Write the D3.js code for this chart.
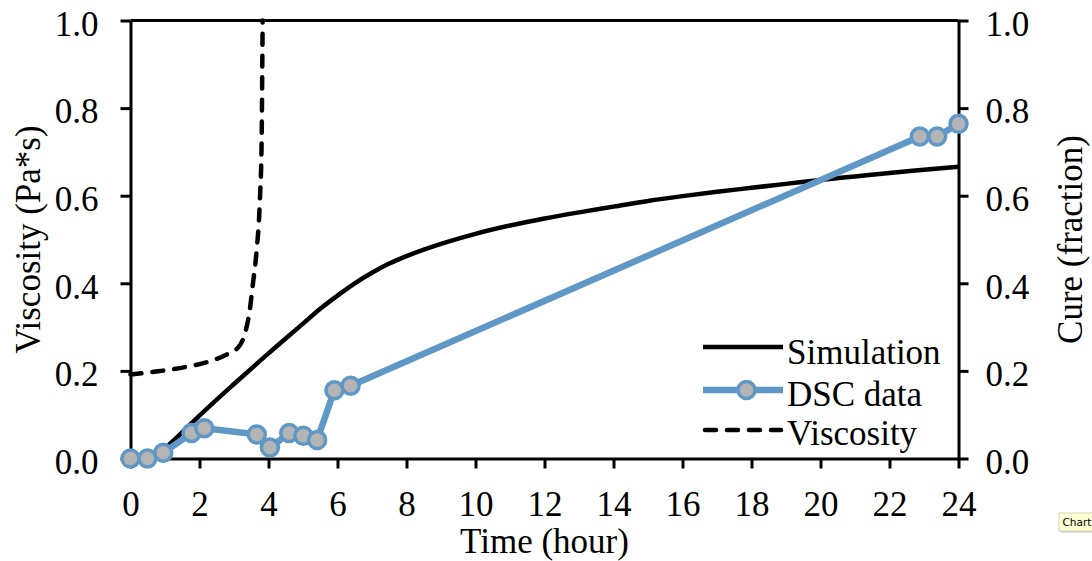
<!DOCTYPE html>
<html>
<head>
<meta charset="utf-8">
<script src="https://cdn.jsdelivr.net/npm/d3@7"></script>
<style>
  html, body { margin: 0; padding: 0; background: #fff; }
  svg { display: block; }
  text { font-family: "Liberation Serif", "Times New Roman", serif; fill: #000; }
</style>
</head>
<body>
<svg id="chart" width="1092" height="561"></svg>
<script>
// Time axis ticks (hours)
const timeTicks = [0, 2, 4, 6, 8, 10, 12, 14, 16, 18, 20, 22, 24];
const valueTicks = [0, 0.2, 0.4, 0.6, 0.8, 1.0];

// Simulated cure fraction vs time
const simTime = [0.85, 1.3, 2, 3, 4, 5, 5.5, 6, 6.5, 7, 7.5, 8, 9, 10, 11, 12, 13, 14, 15, 16, 17, 18, 19, 20, 21, 22, 23, 24];
const simCure = [0.012, 0.045, 0.098, 0.17, 0.24, 0.308, 0.342, 0.372, 0.4, 0.424, 0.445, 0.462, 0.49, 0.513, 0.532, 0.548, 0.562, 0.575, 0.588, 0.599, 0.609, 0.618, 0.627, 0.636, 0.644, 0.652, 0.659, 0.666];

// DSC measured cure fraction
const dscTime = [0, 0.49, 0.95, 1.77, 2.14, 3.66, 4.04, 4.6, 5.01, 5.41, 5.91, 6.38, 22.88, 23.38, 24.0];
const dscCure = [0, 0, 0.013, 0.058, 0.069, 0.055, 0.025, 0.058, 0.052, 0.042, 0.156, 0.166, 0.735, 0.735, 0.764];

// Viscosity (Pa*s) vs time
const viscTime = [0, 0.8, 1.6, 2.3, 2.85, 3.1, 3.25, 3.35, 3.45, 3.55, 3.65, 3.75, 3.8, 3.82, 3.83];
const viscValue = [0.192, 0.199, 0.209, 0.222, 0.24, 0.252, 0.27, 0.295, 0.335, 0.4, 0.47, 0.59, 0.72, 0.9, 1.0];

const legendLabels = ["Simulation", "DSC data", "Viscosity"];

const BLUE = "#5f98c6";
const GREY = "#b4b4b4";
const FONT = 35;

const svg = d3.select("#chart");
const x = d3.scaleLinear().domain([0, 24]).range([130.5, 958.5]);
const y = d3.scaleLinear().domain([0, 1]).range([458.5, 20.5]);

const fmt = d3.format(".1f");

function styleAxis(g) {
  g.selectAll(".domain").attr("stroke", "#000").attr("stroke-width", 3);
  g.selectAll(".tick line").attr("stroke", "#000").attr("stroke-width", 3);
  g.selectAll(".tick text").attr("font-size", FONT).attr("font-family", '"Liberation Serif", serif').attr("fill", "#000");
}

// top frame line
svg.append("line")
  .attr("x1", x(0)).attr("x2", x(24))
  .attr("y1", y(1)).attr("y2", y(1))
  .attr("stroke", "#000").attr("stroke-width", 3);

const gLeft = svg.append("g").attr("transform", `translate(${x(0)},0)`)
  .call(d3.axisLeft(y).tickValues(valueTicks).tickFormat(fmt).tickSize(10).tickSizeOuter(0).tickPadding(22));
styleAxis(gLeft);
gLeft.selectAll(".tick text").attr("dy", "0.42em");

const gRight = svg.append("g").attr("transform", `translate(${x(24)},0)`)
  .call(d3.axisRight(y).tickValues(valueTicks).tickFormat(fmt).tickSize(10).tickSizeOuter(0).tickPadding(17));
styleAxis(gRight);
gRight.selectAll(".tick text").attr("dy", "0.42em");

const gBottom = svg.append("g").attr("transform", `translate(0,${y(0)})`)
  .call(d3.axisBottom(x).tickValues(timeTicks).tickFormat(d3.format("d")).tickSize(10).tickSizeOuter(0).tickPadding(23));
styleAxis(gBottom);

// axis titles
svg.append("text")
  .attr("x", (x(0) + x(24)) / 2).attr("y", 553)
  .attr("text-anchor", "middle").attr("font-size", FONT)
  .text("Time (hour)");

svg.append("text")
  .attr("transform", `translate(40,${(y(0) + y(1)) / 2}) rotate(-90)`)
  .attr("text-anchor", "middle").attr("font-size", FONT)
  .text("Viscosity (Pa*s)");

svg.append("text")
  .attr("transform", `translate(1082,${(y(0) + y(1)) / 2}) rotate(-90)`)
  .attr("text-anchor", "middle").attr("font-size", FONT)
  .text("Cure (fraction)");

// series
const plot = svg.append("g");

const viscData = viscTime.map((t, i) => [t, viscValue[i]]);
plot.append("path")
  .datum(viscData)
  .attr("fill", "none").attr("stroke", "#000").attr("stroke-width", 4.5)
  .attr("stroke-dasharray", "11,11").attr("stroke-linecap", "round")
  .attr("d", d3.line().x(d => x(d[0])).y(d => y(d[1])).curve(d3.curveMonotoneX));

const simData = simTime.map((t, i) => [t, simCure[i]]);
plot.append("path")
  .datum(simData)
  .attr("fill", "none").attr("stroke", "#000").attr("stroke-width", 4.5)
  .attr("d", d3.line().x(d => x(d[0])).y(d => y(d[1])).curve(d3.curveMonotoneX));

const dscData = dscTime.map((t, i) => [t, dscCure[i]]);
plot.append("path")
  .datum(dscData)
  .attr("fill", "none").attr("stroke", BLUE).attr("stroke-width", 6.5)
  .attr("stroke-linejoin", "round")
  .attr("d", d3.line().x(d => x(d[0])).y(d => y(d[1])));

plot.selectAll("circle.dsc")
  .data(dscData)
  .join("circle")
  .attr("class", "dsc")
  .attr("cx", d => x(d[0])).attr("cy", d => y(d[1]))
  .attr("r", 8.5)
  .attr("fill", GREY).attr("stroke", BLUE).attr("stroke-width", 3.5);

// legend
const legend = svg.append("g");
const legendY = [347, 390, 430];
const legendBase = [364, 406, 445];

legend.append("line")
  .attr("x1", 703).attr("x2", 783).attr("y1", legendY[0]).attr("y2", legendY[0])
  .attr("stroke", "#000").attr("stroke-width", 4.5);
legend.append("line")
  .attr("x1", 703).attr("x2", 783).attr("y1", legendY[1]).attr("y2", legendY[1])
  .attr("stroke", BLUE).attr("stroke-width", 6.5);
legend.append("circle")
  .attr("cx", 746.5).attr("cy", legendY[1]).attr("r", 8.5)
  .attr("fill", GREY).attr("stroke", BLUE).attr("stroke-width", 3.5);
legend.append("line")
  .attr("x1", 705).attr("x2", 781).attr("y1", legendY[2]).attr("y2", legendY[2])
  .attr("stroke", "#000").attr("stroke-width", 4.5)
  .attr("stroke-dasharray", "11,11").attr("stroke-linecap", "round");

legend.selectAll("text")
  .data(legendLabels)
  .join("text")
  .attr("x", 787).attr("y", (d, i) => legendBase[i])
  .attr("font-size", FONT)
  .text(d => d);

// small hover tag in the corner
const tag = svg.append("g").attr("transform", "translate(1059,513)");
tag.append("rect")
  .attr("x", 2).attr("y", 2).attr("width", 40).attr("height", 18)
  .attr("fill", "#bbb").attr("opacity", 0.5);
tag.append("rect")
  .attr("x", 0).attr("y", 0).attr("width", 40).attr("height", 18)
  .attr("fill", "#ffffd4").attr("stroke", "#c8c8a0").attr("stroke-width", 0.8);
tag.append("text")
  .attr("x", 3.5).attr("y", 13)
  .style("font-family", '"DejaVu Sans", sans-serif').attr("font-size", 10.5)
  .attr("fill", "#222")
  .text("Chart");
</script>
</body>
</html>
